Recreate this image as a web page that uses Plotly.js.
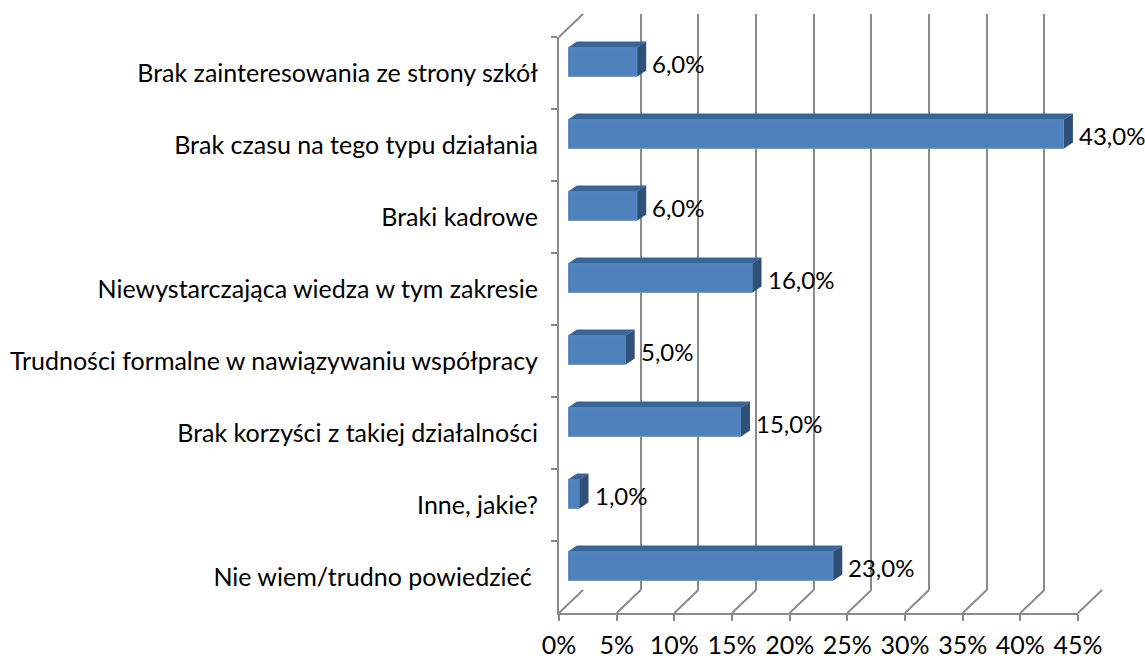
<!DOCTYPE html>
<html>
<head>
<meta charset="utf-8">
<script src="https://cdn.plot.ly/plotly-3.0.1.min.js"></script>
<style>html,body{margin:0;padding:0;background:#fff;}#chart{width:1145px;height:660px;}</style>
</head>
<body>
<div id="chart"></div>
<script>
// ---- data ----
const categories = [
  "Brak zainteresowania ze strony szkół",
  "Brak czasu na tego typu działania",
  "Braki kadrowe",
  "Niewystarczająca wiedza w tym zakresie",
  "Trudności formalne w nawiązywaniu współpracy",
  "Brak korzyści z takiej działalności",
  "Inne, jakie?",
  "Nie wiem/trudno powiedzieć "
];
const values = [6, 43, 6, 16, 5, 15, 1, 23];
const tickValues = [0, 5, 10, 15, 20, 25, 30, 35, 40, 45];
const tickLabels = ["0%", "5%", "10%", "15%", "20%", "25%", "30%", "35%", "40%", "45%"];
const valueLabels = ["6,0%", "43,0%", "6,0%", "16,0%", "5,0%", "15,0%", "1,0%", "23,0%"];

// ---- layout geometry (pixels in a 1145x660 page) ----
const W = 1145, H = 660;
const px2x = p => p / W;
const px2y = p => 1 - p / H;
const front = {x0: 559, x1: 1078, y0: 37, y1: 613};
const mid   = {x0: 568, x1: 1087, y0: 26, y1: 602};
const back  = {x0: 583, x1: 1102, y0: 14, y1: 590};
const dom = b => ({x: [px2x(b.x0), px2x(b.x1)], y: [px2y(b.y1), px2y(b.y0)]});
const dF = dom(front), dM = dom(mid), dB = dom(back);
const xMax = 45;
const gray = '#8a8a8a';
const font = {family: 'Lato, "Open Sans", sans-serif', size: 25, color: '#000'};
const valFont = {family: 'Lato, "Open Sans", sans-serif', size: 24, color: '#000'};

const catRange = [categories.length - 0.5, -0.5];

const traces = [
  // back plane (gridlines)
  {type: 'scatter', x: [0], y: [0], mode: 'markers', marker: {opacity: 0}, hoverinfo: 'skip', showlegend: false, xaxis: 'x', yaxis: 'y'},
  // front plane (axes + labels)
  {type: 'scatter', x: categories.map(() => 0), y: categories, mode: 'markers', marker: {opacity: 0}, hoverinfo: 'skip', showlegend: false, xaxis: 'x2', yaxis: 'y2'},
  // bars (mid depth)
  {type: 'bar', orientation: 'h', x: values, y: categories, xaxis: 'x3', yaxis: 'y3',
   marker: {color: '#4f81bd', line: {color: '#6f9ad0', width: 1}}, width: 0.4, hoverinfo: 'x+y', showlegend: false}
];

// 3D faces of the bars
const pxPerUnit = (mid.x1 - mid.x0) / xMax;
const depthX = 9, depthY = 6, halfH = 14.5;
const d = depthX / pxPerUnit;
const shapes = [];
values.forEach((v, i) => {
  shapes.push({type: 'path', xref: 'x3', yref: 'y3', ysizemode: 'pixel', yanchor: i,
    path: `M0,${halfH} L${v},${halfH} L${v + d},${halfH + depthY} L${d},${halfH + depthY} Z`,
    fillcolor: '#3d6494', line: {width: 0}, layer: 'above'});
  shapes.push({type: 'path', xref: 'x3', yref: 'y3', ysizemode: 'pixel', yanchor: i,
    path: `M${v},${-halfH} L${v},${halfH} L${v + d},${halfH + depthY} L${v + d},${-halfH + depthY} Z`,
    fillcolor: '#2f5079', line: {width: 0}, layer: 'above'});
});
// floor slant lines from front ticks to back gridlines
tickValues.forEach(t => {
  const fx = front.x0 + (front.x1 - front.x0) * t / xMax;
  const bx = back.x0 + (back.x1 - back.x0) * t / xMax;
  shapes.push({type: 'line', xref: 'paper', yref: 'paper', x0: px2x(fx), y0: px2y(front.y1), x1: px2x(bx), y1: px2y(back.y1),
    line: {color: gray, width: 2}, layer: 'below'});
});
// left wall top slant
shapes.push({type: 'line', xref: 'paper', yref: 'paper', x0: px2x(front.x0), y0: px2y(front.y0), x1: px2x(back.x0), y1: px2y(back.y0),
  line: {color: gray, width: 2}, layer: 'below'});

const annotations = values.map((v, i) => ({
  xref: 'x3', yref: 'y3', x: v, y: i, text: valueLabels[i], showarrow: false,
  xanchor: 'left', yanchor: 'middle', xshift: 13, yshift: -1, font: valFont
}));

const layout = {
  width: W, height: H,
  margin: {l: 0, r: 0, t: 0, b: 0},
  paper_bgcolor: '#fff', plot_bgcolor: 'rgba(0,0,0,0)',
  font: font,
  showlegend: false,
  xaxis: {domain: dB.x, range: [0, xMax], anchor: 'y', tickvals: tickValues, showticklabels: false, ticks: '',
    showgrid: true, gridcolor: gray, gridwidth: 2, zeroline: false, showline: false, fixedrange: true},
  yaxis: {domain: dB.y, range: [0, 1], anchor: 'x', visible: false, fixedrange: true},
  xaxis2: {domain: dF.x, range: [0, xMax], anchor: 'y2', tickvals: tickValues, ticktext: tickLabels,
    ticks: 'outside', ticklen: 6, tickcolor: gray, tickwidth: 2, showline: true, linecolor: gray, linewidth: 2,
    showgrid: false, zeroline: false, tickfont: font, ticklabelstandoff: 3, fixedrange: true},
  yaxis2: {domain: dF.y, type: 'category', categoryorder: 'array', categoryarray: categories, range: catRange, anchor: 'x2',
    tickson: 'boundaries', ticks: 'outside', ticklen: 6, tickcolor: gray, tickwidth: 2,
    showline: true, linecolor: gray, linewidth: 2, showgrid: false, zeroline: false, tickfont: font, ticklabelstandoff: 14, fixedrange: true},
  xaxis3: {domain: dM.x, range: [0, xMax], anchor: 'y3', visible: false, fixedrange: true},
  yaxis3: {domain: dM.y, type: 'category', categoryorder: 'array', categoryarray: categories, range: catRange, anchor: 'x3', visible: false, fixedrange: true},
  shapes: shapes,
  annotations: annotations
};

Plotly.newPlot('chart', traces, layout, {displayModeBar: false, staticPlot: true});
</script>
</body>
</html>
